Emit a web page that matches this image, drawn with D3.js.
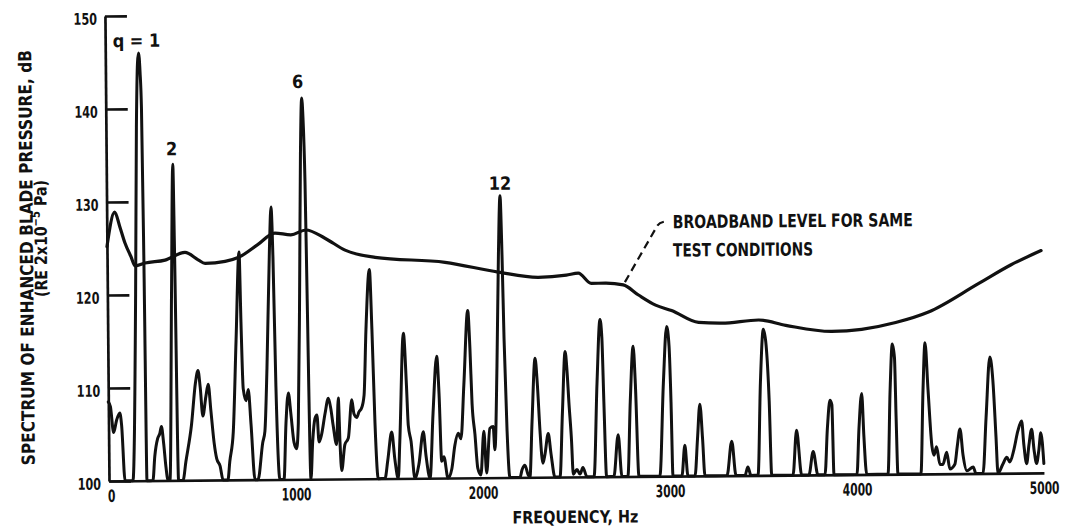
<!DOCTYPE html>
<html>
<head>
<meta charset="utf-8">
<script src="https://cdn.jsdelivr.net/npm/d3@7"></script>
<style>
  body { margin: 0; background: #fff; }
  svg { display: block; }
  text { font-family: "DejaVu Sans Condensed", "DejaVu Sans", sans-serif; font-weight: bold; fill: #111; }
</style>
</head>
<body>
<svg id="chart" width="1065" height="531"></svg>
<script>
// Narrowband spectrum of the enhanced blade pressure (Hz, dB)
const specFreq = [0,11,27,43,61,70,86,128,151,163,172,178,185,191,197,203,235,246,262,273,283,294,305,316,326,343,356,361,372,396,412,444,467,481,492,505,522,535,548,564,577,595,610,636,647,667,686,706,713,722,737,749,762,781,797,824,836,850,869,879,887,897,914,936,949,963,976,991,1005,1015,1028,1039,1048,1054,1062,1068,1080,1091,1104,1115,1125,1139,1158,1177,1190,1201,1219,1230,1237,1245,1263,1282,1302,1313,1328,1340,1354,1368,1381,1402,1413,1425,1440,1476,1492,1514,1530,1547,1557,1581,1595,1603,1617,1636,1658,1683,1696,1717,1736,1758,1769,1780,1792,1813,1834,1851,1870,1884,1902,1926,1936,1945,1959,1973,1989,2007,2020,2039,2057,2065,2080,2093,2104,2112,2119,2131,2144,2198,2209,2225,2241,2251,2265,2284,2295,2307,2321,2333,2351,2365,2385,2412,2428,2445,2454,2463,2475,2483,2503,2519,2535,2556,2594,2614,2633,2642,2650,2661,2700,2725,2743,2775,2791,2809,2819,2834,2946,2969,2989,3001,3009,3016,3064,3081,3096,3134,3149,3163,3176,3187,3305,3332,3353,3401,3417,3433,3471,3488,3506,3520,3534,3544,3658,3679,3704,3743,3767,3791,3829,3844,3859,3869,3877,4000,4013,4029,4039,4052,4166,4181,4195,4206,4212,4219,4342,4357,4370,4384,4402,4413,4427,4444,4460,4481,4497,4524,4538,4553,4568,4588,4622,4636,4674,4693,4716,4731,4745,4754,4781,4802,4818,4840,4862,4883,4894,4908,4921,4936,4948,4961,4974,4985,5000];
const specLevel = [108.5,108,105.2,106.5,107.3,106,100,100,120,138,145,146,144,140,123,100,100,102.6,104.5,105,105.8,104,101.5,100,100,120,134,125,100,100,102,106,110.5,111.8,110,106.9,109,110.3,107.5,104,102.3,101.5,100,100,102,105.2,115,124.5,117,109.8,108.5,109.7,106,100,100,104,105.2,112,125,129.3,124,110,100,100,106,109.3,107,104,103.3,106,120,135,141,139,132,120,100,104,106.5,106.9,104,104.8,107,108.7,107.5,105.8,103.7,108.7,104,100.9,103.7,104.4,108.5,107,106.6,107.2,107.6,109,116,122.5,116,106,100,100,102,105,102,100,104,115.6,110,105.7,104,100,101.5,105,102.5,100,107,113.1,109,101.8,102.3,100,101,103.5,104.8,104.2,110,118,114,108,104.7,101,100.3,105,100.5,105.3,105.5,103,112,124,130.3,124,115,105,100,100,100.8,101.3,100.3,100,106,112.8,110,105,101.5,102.5,104.7,102.5,100,100,107,113.5,111.5,108,104,100.3,100.8,100.3,101,100,100,110,116.9,115,108,100,100,104.5,100,100,108,114,110,100,100,110,116.1,114,108,100,100,103.3,100,100,104,107.7,104,100,100,103.7,100,100,100.9,100,100,110,115.7,114,108,100,100,104.8,100,100,102.5,100,100,105,108,107.5,100,100,105,108.7,104,100,100,109,114,112.5,106,100,100,109,114.1,109,103,102,102.9,101,101,102.3,100.5,101,103,104.8,102,100.3,100.7,100,100,106,112.5,110,104,100,101,101.7,101.2,102.5,104.5,105.6,103,101,103,104.7,102.5,101,102.5,104.3,101];

// Broadband level for the same test conditions (Hz, dB)
const bbFreq = [0,43,70,96,128,150,203,310,417,487,524,631,701,808,898,984,1064,1166,1273,1433,1807,2091,2305,2455,2519,2588,2663,2759,2840,2931,3016,3160,3284,3481,3626,3872,4032,4214,4390,4658,4834,4995];
const bbLevel = [125.2,128.9,127.3,125.6,124.1,123.1,123.4,123.7,124.5,123.7,123.3,123.5,123.9,125.3,126.5,126.3,126.8,125.9,124.6,123.8,123.2,122.1,121.5,121.7,121.9,120.8,120.8,120.6,119.5,118.4,117.8,116.5,116.4,116.7,116.1,115.4,115.6,116.3,117.4,120.4,122.4,123.9];

// Harmonic order labels and the peaks they mark
const peakLabels = ["q = 1", "2", "6", "12"];
const peakFreq = [178, 356, 1048, 2104];
const peakLevel = [146, 134, 141, 130.3];

const yTicks = [100, 110, 120, 130, 140, 150];
const xTicks = [0, 1000, 2000, 3000, 4000, 5000];

const svg = d3.select("#chart");
// the whole sheet sits a half degree off square
const plot = svg.append("g").attr("transform", "rotate(-0.5,108,481)");

const x = d3.scaleLinear().domain([0, 5000]).range([109, 1044]);
const y = d3.scaleLinear().domain([100, 150]).range([481, 16]);

// tick lettering is squeezed sideways, like the stencilled digits
const yLabelSqueeze = 0.78;
const xLabelSqueeze = 0.70;

// y axis: ticks point into the plot
const yAxis = plot.append("g")
  .attr("transform", `translate(${x(0)},0)`)
  .call(d3.axisLeft(y).tickValues(yTicks).tickFormat(d3.format("d"))
    .tickSizeInner(-22).tickSizeOuter(0).tickPadding(8));
yAxis.selectAll("path, line").attr("stroke", "#111").attr("stroke-width", 2.7);
yAxis.selectAll("text")
  .attr("font-family", null).attr("fill", "#111")
  .style("font-size", "16px")
  .attr("dy", "0.5em")
  .attr("x", -8 / yLabelSqueeze)
  .attr("transform", `scale(${yLabelSqueeze},1)`);

// x axis: bare baseline with labels
const xAxis = plot.append("g")
  .attr("transform", `translate(0,${y(100)})`)
  .call(d3.axisBottom(x).tickValues(xTicks).tickFormat(d3.format("d"))
    .tickSize(0).tickPadding(9));
xAxis.selectAll("path").attr("stroke", "#111").attr("stroke-width", 2.7);
xAxis.selectAll("text")
  .attr("font-family", null).attr("fill", "#111")
  .style("font-size", "17px")
  .attr("x", d => (d === 0 ? 2 : 0) / xLabelSqueeze)
  .attr("transform", `scale(${xLabelSqueeze},1)`);

// broadband curve and narrowband spectrum
const bbData = bbFreq.map((f, i) => [f, bbLevel[i]]);
const specData = specFreq.map((f, i) => [f, specLevel[i]]);
const line = d3.line().x(d => x(d[0])).y(d => y(d[1])).curve(d3.curveMonotoneX);

plot.append("path").datum(bbData)
  .attr("d", line).attr("fill", "none").attr("stroke", "#111")
  .attr("stroke-width", 3.2).attr("stroke-linejoin", "round").attr("stroke-linecap", "round");

plot.append("path").datum(specData)
  .attr("d", line).attr("fill", "none").attr("stroke", "#111")
  .attr("stroke-width", 3).attr("stroke-linejoin", "round").attr("stroke-linecap", "round");

// harmonic labels above their peaks
const labelShift = [[-2, -6], [-1, -9], [-4, -10], [0, -6]];
plot.selectAll("text.peak").data(peakLabels).enter().append("text")
  .attr("class", "peak")
  .attr("x", (d, i) => x(peakFreq[i]) + labelShift[i][0])
  .attr("y", (d, i) => y(peakLevel[i]) + labelShift[i][1])
  .attr("text-anchor", "middle")
  .style("font-size", "18px")
  .text(d => d);

// leader from the broadband curve to its note
const lead = d3.path();
lead.moveTo(x(2768), y(120.9));
lead.lineTo(x(2937), y(126.7));
lead.quadraticCurveTo(x(2952), y(127.4), x(3002), y(127.4));
plot.append("path").attr("d", lead.toString())
  .attr("fill", "none").attr("stroke", "#111").attr("stroke-width", 2.2)
  .attr("stroke-dasharray", "8,5");

const note = plot.append("text").style("font-size", "18px");
note.append("tspan").attr("x", x(3027)).attr("y", y(126.65))
  .attr("textLength", 240).attr("lengthAdjust", "spacingAndGlyphs")
  .text("BROADBAND LEVEL FOR SAME");
note.append("tspan").attr("x", x(3027)).attr("y", y(126.65) + 28.4)
  .attr("textLength", 140).attr("lengthAdjust", "spacingAndGlyphs")
  .text("TEST CONDITIONS");

// axis titles
plot.append("text")
  .attr("transform", "translate(35,257) rotate(-90)")
  .attr("text-anchor", "middle")
  .style("font-size", "18px")
  .attr("textLength", 415).attr("lengthAdjust", "spacingAndGlyphs")
  .text("SPECTRUM OF ENHANCED BLADE PRESSURE, dB");

const unit = plot.append("text")
  .attr("transform", "translate(49,238) rotate(-90)")
  .attr("text-anchor", "middle")
  .style("font-size", "17px")
  .attr("textLength", 117).attr("lengthAdjust", "spacingAndGlyphs");
unit.append("tspan").text("(RE 2x10");
unit.append("tspan").attr("dy", -7).style("font-size", "12px").text("\u22125");
unit.append("tspan").attr("dy", 7).text(" Pa)");

plot.append("text")
  .attr("x", 575).attr("y", 527)
  .attr("text-anchor", "middle")
  .style("font-size", "17px")
  .attr("textLength", 126).attr("lengthAdjust", "spacingAndGlyphs")
  .text("FREQUENCY, Hz");
</script>
</body>
</html>
